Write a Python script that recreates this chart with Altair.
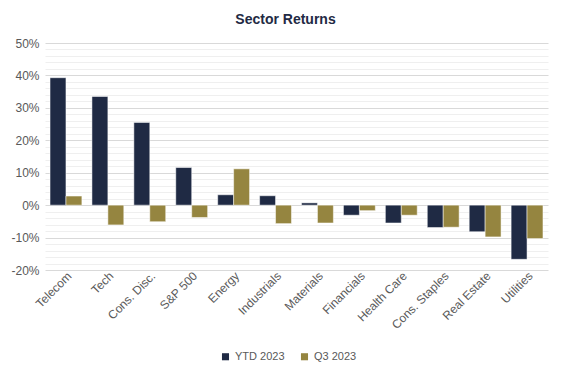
import altair as alt
import pandas as pd

sectors = ["Telecom", "Tech", "Cons. Disc.", "S&P 500", "Energy", "Industrials",
           "Materials", "Financials", "Health Care", "Cons. Staples", "Real Estate", "Utilities"]
ytd_2023 = [39.3, 33.5, 25.5, 11.6, 3.2, 2.9, 0.7, -3.1, -5.5, -6.9, -8.2, -16.7]
q3_2023 = [2.8, -6.1, -5.1, -3.8, 11.2, -5.7, -5.5, -1.7, -3.1, -6.8, -9.8, -10.3]
series = ["YTD 2023", "Q3 2023"]
colors = ["#1F2A44", "#958540"]
y_ticks = list(range(-20, 51, 2))

rows = []
for i, s in enumerate(sectors):
    rows.append({"sector": s, "series": series[0], "value": ytd_2023[i], "order": 0})
    rows.append({"sector": s, "series": series[1], "value": q3_2023[i], "order": 1})
df = pd.DataFrame(rows)

chart = alt.Chart(df).mark_bar(stroke="white", strokeWidth=0.5).encode(
    x=alt.X("sector:N", sort=sectors, title=None,
            scale=alt.Scale(paddingInner=0.24, paddingOuter=0.12),
            axis=alt.Axis(labelAngle=-45, domain=False, ticks=False, labelFontSize=12,
                          labelColor="#595959", labelPadding=0)),
    xOffset=alt.XOffset("series:N", sort=series, scale=alt.Scale(paddingInner=0, paddingOuter=0)),
    y=alt.Y("value:Q", title=None,
            scale=alt.Scale(domain=[-20, 50], nice=False),
            axis=alt.Axis(values=y_ticks, domain=False, ticks=False, labelFontSize=12,
                          labelColor="#595959", labelPadding=6,
                          labelExpr="round(datum.value) % 10 == 0 ? datum.value + '%' : ''",
                          gridColor={"condition": {"test": "round(datum.value) % 10 == 0", "value": "#D9D9D9"},
                                     "value": "#EFEFEF"},
                          gridWidth=1)),
    color=alt.Color("series:N", sort=series,
                    scale=alt.Scale(domain=series, range=colors),
                    legend=alt.Legend(title=None, orient="none", direction="horizontal",
                                      legendX=175, legendY=308, symbolType="square",
                                      symbolSize=50, labelFontSize=11, labelColor="#595959",
                                      columnPadding=14, symbolStrokeWidth=0)),
    order=alt.Order("order:Q"),
).properties(
    width=503, height=227,
    padding={"left": 2, "top": 5, "right": 5, "bottom": 5},
    title=alt.TitleParams("Sector Returns", fontSize=14, fontWeight="bold", color="#1F2A44",
                          anchor="middle", offset=10, dx=-11),
).configure(
    font="Liberation Sans",
).configure_view(stroke=None)

chart.save("out.html", embed_options={"renderer": "svg", "actions": False})
